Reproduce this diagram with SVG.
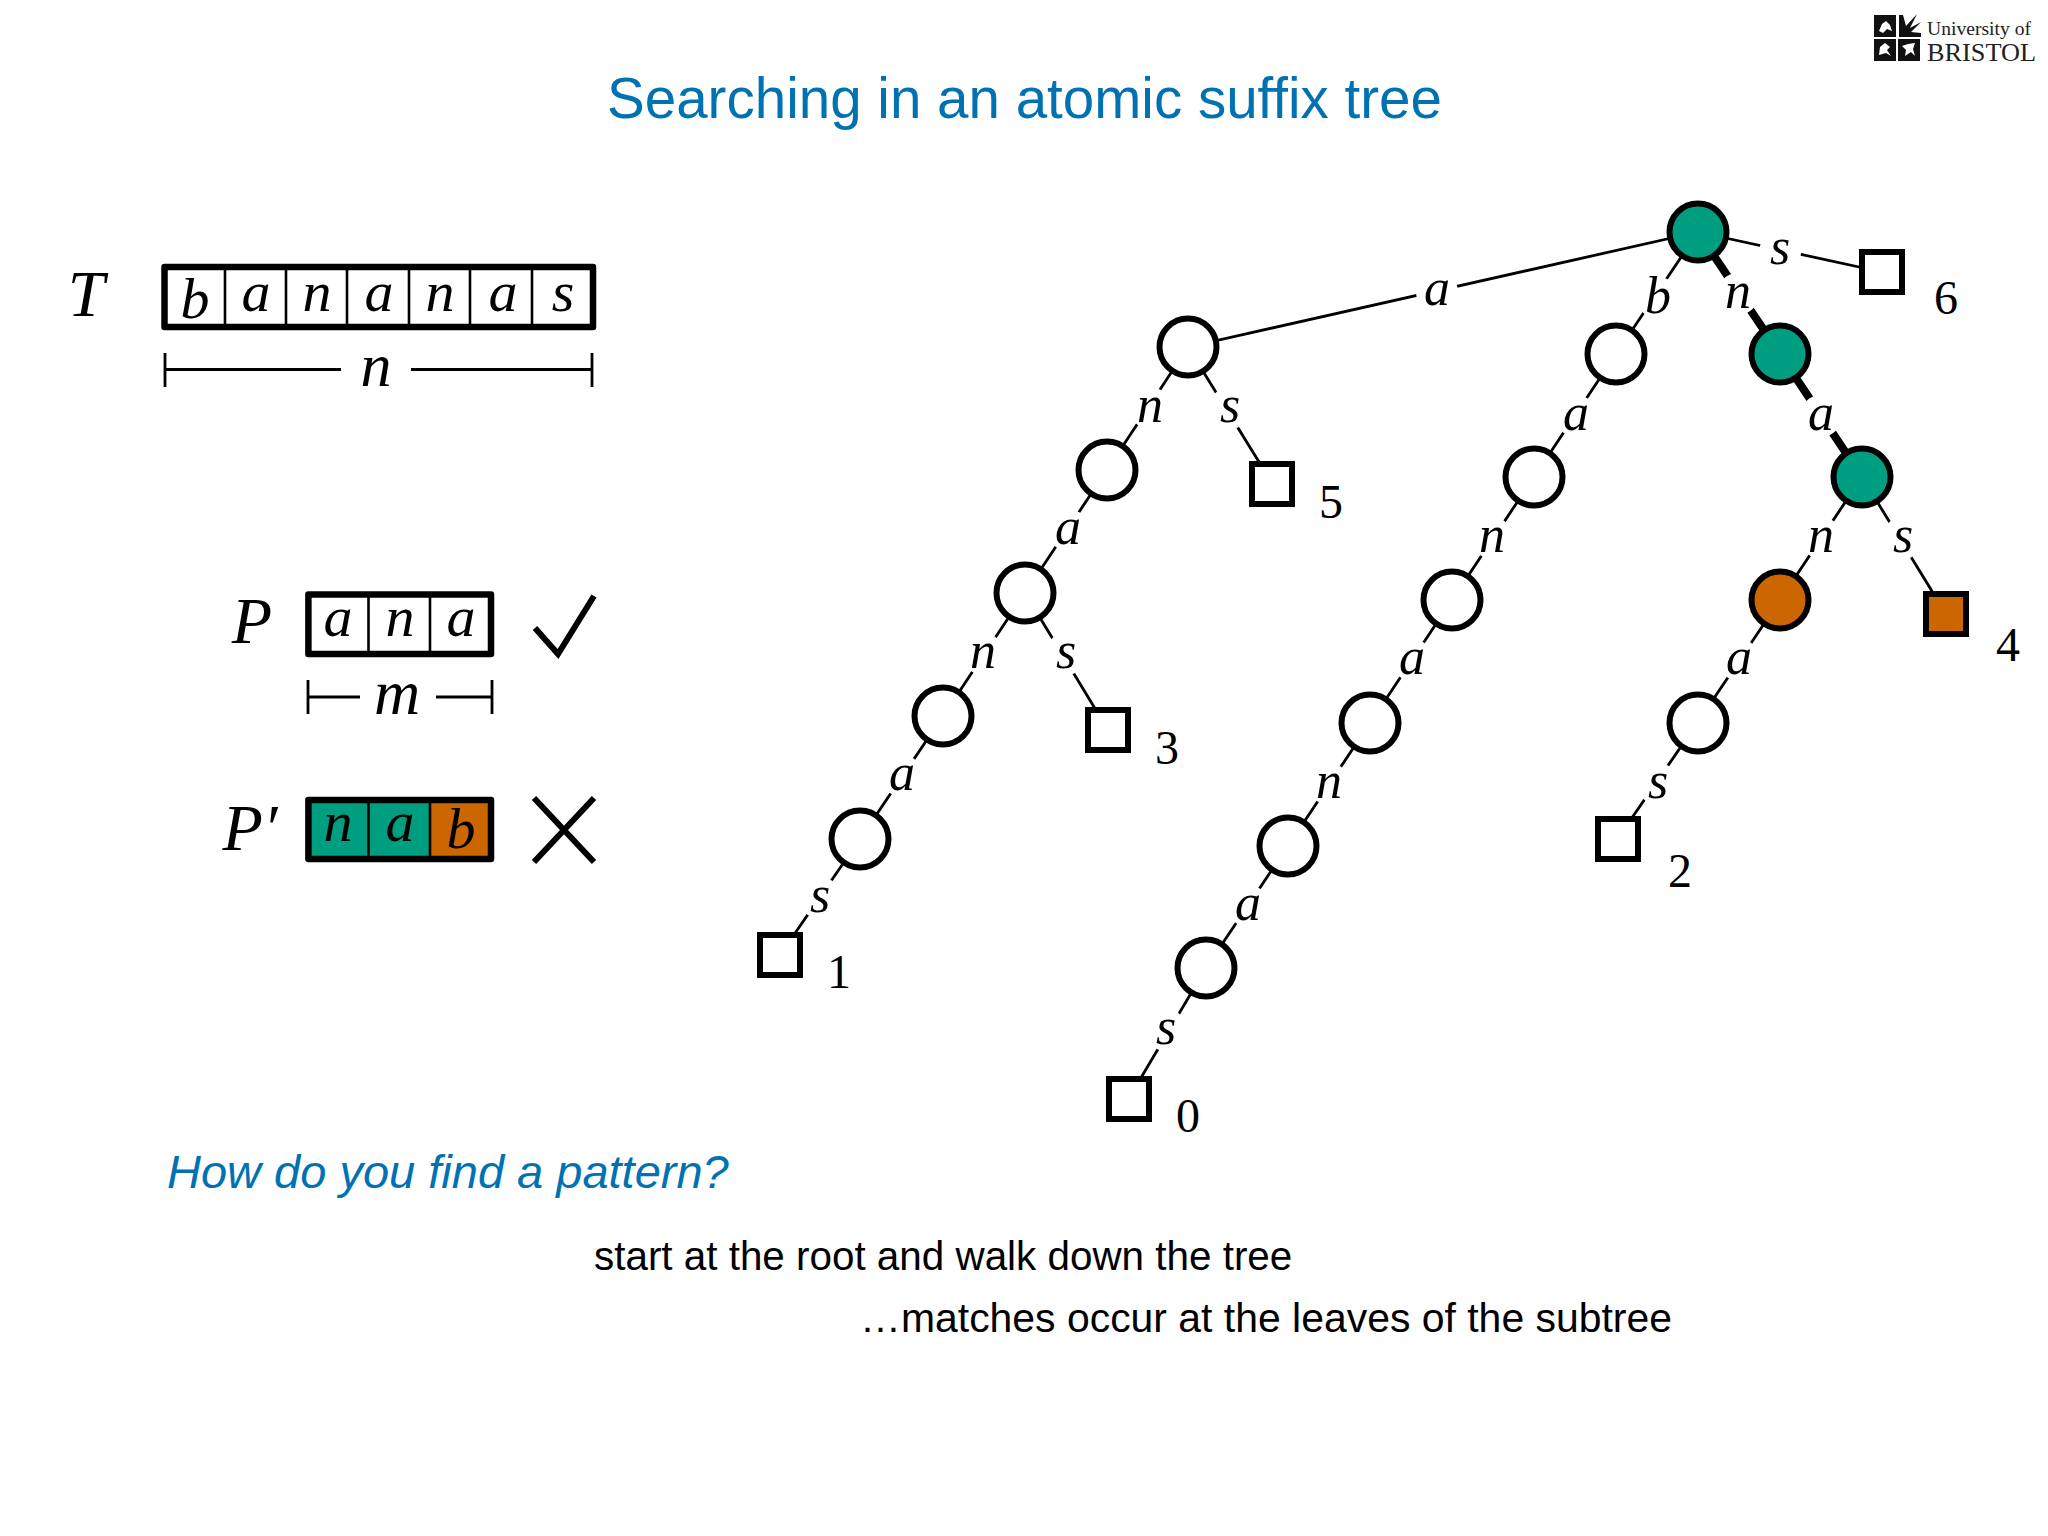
<svg xmlns="http://www.w3.org/2000/svg" width="2048" height="1536" viewBox="0 0 2048 1536">
<style>
.m{font-family:"Liberation Serif",serif;font-style:italic;font-size:52px;fill:#000;text-anchor:middle}
.b{font-size:58px}
.l{font-size:66px}
.d{font-family:"Liberation Serif",serif;font-size:48px;fill:#000;text-anchor:middle}
.s{font-family:"Liberation Sans",sans-serif;font-size:40.4px;fill:#000}
.c{fill:#fff;stroke:#000;stroke-width:6}
.t{fill:#009e80}.o{fill:#cc6600}
.e{stroke:#000;stroke-width:2.8;fill:none}
.h{stroke:#000;stroke-width:8;fill:none}
.g{stroke:#000;stroke-width:2.6;fill:none}
.bx{fill:none;stroke:#000;stroke-width:6.5;stroke-linejoin:round}
.k{fill:#fff}
</style>
<rect width="2048" height="1536" fill="#fff"/>
<text id="title" x="607" y="118" textLength="835" lengthAdjust="spacingAndGlyphs" font-family="Liberation Sans,sans-serif" font-size="58" fill="#0072b2">Searching in an atomic suffix tree</text>
<g id="logo">
<rect x="1874" y="15" width="22" height="22" fill="#111"/><rect x="1874" y="39" width="22" height="22" fill="#111"/><rect x="1898" y="39" width="22" height="22" fill="#111"/>
<path class="k" d="M1879 31L1882 24L1886 21L1890 25L1892 31L1887 29L1883 33Z"/>
<path class="k" d="M1879 55L1880 47L1885 43L1890 47L1887 50L1891 56L1886 53Z"/>
<path class="k" d="M1902 46L1908 44L1915 43L1913 49L1915 56L1911 52L1905 56L1906 50Z"/>
<path d="M1899 37V15L1903 15L1906 26L1917 14L1910 28L1921 22L1911 32L1921 33V37Z" fill="#111"/>
<text x="1927" y="35" textLength="104" lengthAdjust="spacingAndGlyphs" font-family="Liberation Serif,serif" font-size="18" fill="#222">University of</text>
<text x="1927" y="61" textLength="109" lengthAdjust="spacingAndGlyphs" font-family="Liberation Serif,serif" font-size="25" fill="#222">BRISTOL</text>
</g>
<g id="connectors">
<path class="e" d="M1698 232L1188 347M1698 232L1616 354M1698 232L1882 272"/>
<path class="h" d="M1698 232L1780 354L1862 477"/>
<path class="e" d="M1862 477L1780 600L1698 722L1618 838M1862 477L1946 614"/>
<path class="e" d="M1616 354L1534 477L1452 600L1370 723L1288 846L1206 968L1129 1098"/>
<path class="e" d="M1188 347L1107 470L1025 593L943 716L860 839L780 955M1188 347L1272 483M1025 593L1108 730"/>
</g>
<g id="edge-labels">
<g fill="#fff">
<circle cx="1437" cy="292" r="21"/><circle cx="1658" cy="298" r="21"/><circle cx="1738" cy="294" r="21"/><circle cx="1780" cy="252" r="21"/>
<circle cx="1150" cy="408" r="21"/><circle cx="1230" cy="408" r="21"/><circle cx="1068" cy="530" r="21"/><circle cx="983" cy="654" r="21"/><circle cx="1066" cy="654" r="21"/><circle cx="902" cy="776" r="21"/><circle cx="820" cy="898" r="21"/>
<circle cx="1576" cy="416" r="21"/><circle cx="1492" cy="538" r="21"/><circle cx="1412" cy="660" r="21"/><circle cx="1329" cy="784" r="21"/><circle cx="1248" cy="906" r="21"/><circle cx="1166" cy="1030" r="21"/>
<circle cx="1821" cy="416" r="21"/><circle cx="1821" cy="538" r="21"/><circle cx="1903" cy="538" r="21"/><circle cx="1739" cy="660" r="21"/><circle cx="1658" cy="784" r="21"/>
</g>
<text class="m" x="1437" y="305">a</text><text class="m" x="1658" y="313">b</text><text class="m" x="1738" y="308">n</text><text class="m" x="1780" y="264">s</text>
<text class="m" x="1150" y="422">n</text><text class="m" x="1230" y="422">s</text><text class="m" x="1068" y="544">a</text><text class="m" x="983" y="668">n</text><text class="m" x="1066" y="668">s</text><text class="m" x="902" y="790">a</text><text class="m" x="820" y="912">s</text>
<text class="m" x="1576" y="430">a</text><text class="m" x="1492" y="552">n</text><text class="m" x="1412" y="674">a</text><text class="m" x="1329" y="798">n</text><text class="m" x="1248" y="920">a</text><text class="m" x="1166" y="1044">s</text>
<text class="m" x="1821" y="430">a</text><text class="m" x="1821" y="552">n</text><text class="m" x="1903" y="552">s</text><text class="m" x="1739" y="674">a</text><text class="m" x="1658" y="798">s</text>
</g>
<g id="n-root"><circle class="c t" cx="1698" cy="232" r="28.5"/></g>
<g id="n-a"><circle class="c" cx="1188" cy="347" r="28.5"/></g>
<g id="n-an"><circle class="c" cx="1107" cy="470" r="28.5"/></g>
<g id="n-ana"><circle class="c" cx="1025" cy="593" r="28.5"/></g>
<g id="n-anan"><circle class="c" cx="943" cy="716" r="28.5"/></g>
<g id="n-anana"><circle class="c" cx="860" cy="839" r="28.5"/></g>
<g id="n-b"><circle class="c" cx="1616" cy="354" r="28.5"/></g>
<g id="n-ba"><circle class="c" cx="1534" cy="477" r="28.5"/></g>
<g id="n-ban"><circle class="c" cx="1452" cy="600" r="28.5"/></g>
<g id="n-bana"><circle class="c" cx="1370" cy="723" r="28.5"/></g>
<g id="n-banan"><circle class="c" cx="1288" cy="846" r="28.5"/></g>
<g id="n-banana"><circle class="c" cx="1206" cy="968" r="28.5"/></g>
<g id="n-n"><circle class="c t" cx="1780" cy="354" r="28.5"/></g>
<g id="n-na"><circle class="c t" cx="1862" cy="477" r="28.5"/></g>
<g id="n-nan"><circle class="c o" cx="1780" cy="600" r="28.5"/></g>
<g id="n-nana"><circle class="c" cx="1698" cy="723" r="28.5"/></g>
<g id="leaf-6"><rect class="c" x="1862" y="252" width="40" height="40"/><text class="d" x="1946" y="314">6</text></g>
<g id="leaf-4"><rect class="c o" x="1926" y="594" width="40" height="40"/><text class="d" x="2008" y="661">4</text></g>
<g id="leaf-5"><rect class="c" x="1252" y="464" width="40" height="40"/><text class="d" x="1331" y="518">5</text></g>
<g id="leaf-3"><rect class="c" x="1088" y="710" width="40" height="40"/><text class="d" x="1167" y="764">3</text></g>
<g id="leaf-1"><rect class="c" x="760" y="935" width="40" height="40"/><text class="d" x="839" y="988">1</text></g>
<g id="leaf-2"><rect class="c" x="1598" y="819" width="40" height="40"/><text class="d" x="1680" y="887">2</text></g>
<g id="leaf-0"><rect class="c" x="1109" y="1079" width="40" height="40"/><text class="d" x="1188" y="1132">0</text></g>
<g id="array-T">
<rect x="164.5" y="267" width="428.5" height="60" fill="#fff"/>
<path class="g" d="M225 267V327M286 267V327M347 267V327M409 267V327M470 267V327M532 267V327"/>
<rect class="bx" x="164.5" y="267" width="428.5" height="60"/>
<text class="m b" x="195" y="318">b</text><text class="m b" x="256" y="311">a</text><text class="m b" x="317" y="311">n</text><text class="m b" x="379" y="311">a</text><text class="m b" x="440" y="311">n</text><text class="m b" x="503" y="311">a</text><text class="m b" x="563" y="311">s</text>
<text class="m l" x="86" y="316">T</text>
<path class="e" d="M165 353V387M165 369.5H341M411 369.5H592M592 353V387"/>
<text class="m" style="font-size:62px" x="376" y="386">n</text>
</g>
<g id="array-P">
<path class="g" d="M368.5 594.5V654M430 594.5V654"/>
<rect class="bx" x="308.4" y="594.5" width="182.6" height="59.5"/>
<text class="m b" x="338" y="636">a</text><text class="m b" x="400" y="636">n</text><text class="m b" x="461" y="636">a</text>
<text class="m l" x="252" y="643">P</text>
<path class="e" d="M308 680V714M308 697H360M436 697H492M492 680V714"/>
<text class="m" style="font-size:64px" x="397" y="714">m</text>
<path d="M535 628L558 654L594 596" stroke="#000" stroke-width="6" fill="none"/>
</g>
<g id="array-P2">
<rect x="308.4" y="800" width="60" height="59" class="t"/><rect x="368.5" y="800" width="61.5" height="59" class="t"/><rect x="430" y="800" width="61" height="59" class="o"/>
<path class="g" d="M368.5 800V859M430 800V859"/>
<rect class="bx" x="308.4" y="800" width="182.6" height="59"/>
<text class="m b" x="338" y="841">n</text><text class="m b" x="400" y="841">a</text><text class="m b" x="461" y="848">b</text>
<text class="m l" x="250" y="850">P′</text>
<path d="M534 798L594 862M594 798L534 862" stroke="#000" stroke-width="6" fill="none"/>
</g>
<text id="question" x="167" y="1188" font-family="Liberation Sans,sans-serif" font-style="italic" font-size="47" fill="#0072b2">How do you find a pattern?</text>
<text id="line1" class="s" x="594" y="1270">start at the root and walk down the tree</text>
<text id="line2" class="s" x="860" y="1332" textLength="812" lengthAdjust="spacingAndGlyphs">…matches occur at the leaves of the subtree</text>
</svg>
